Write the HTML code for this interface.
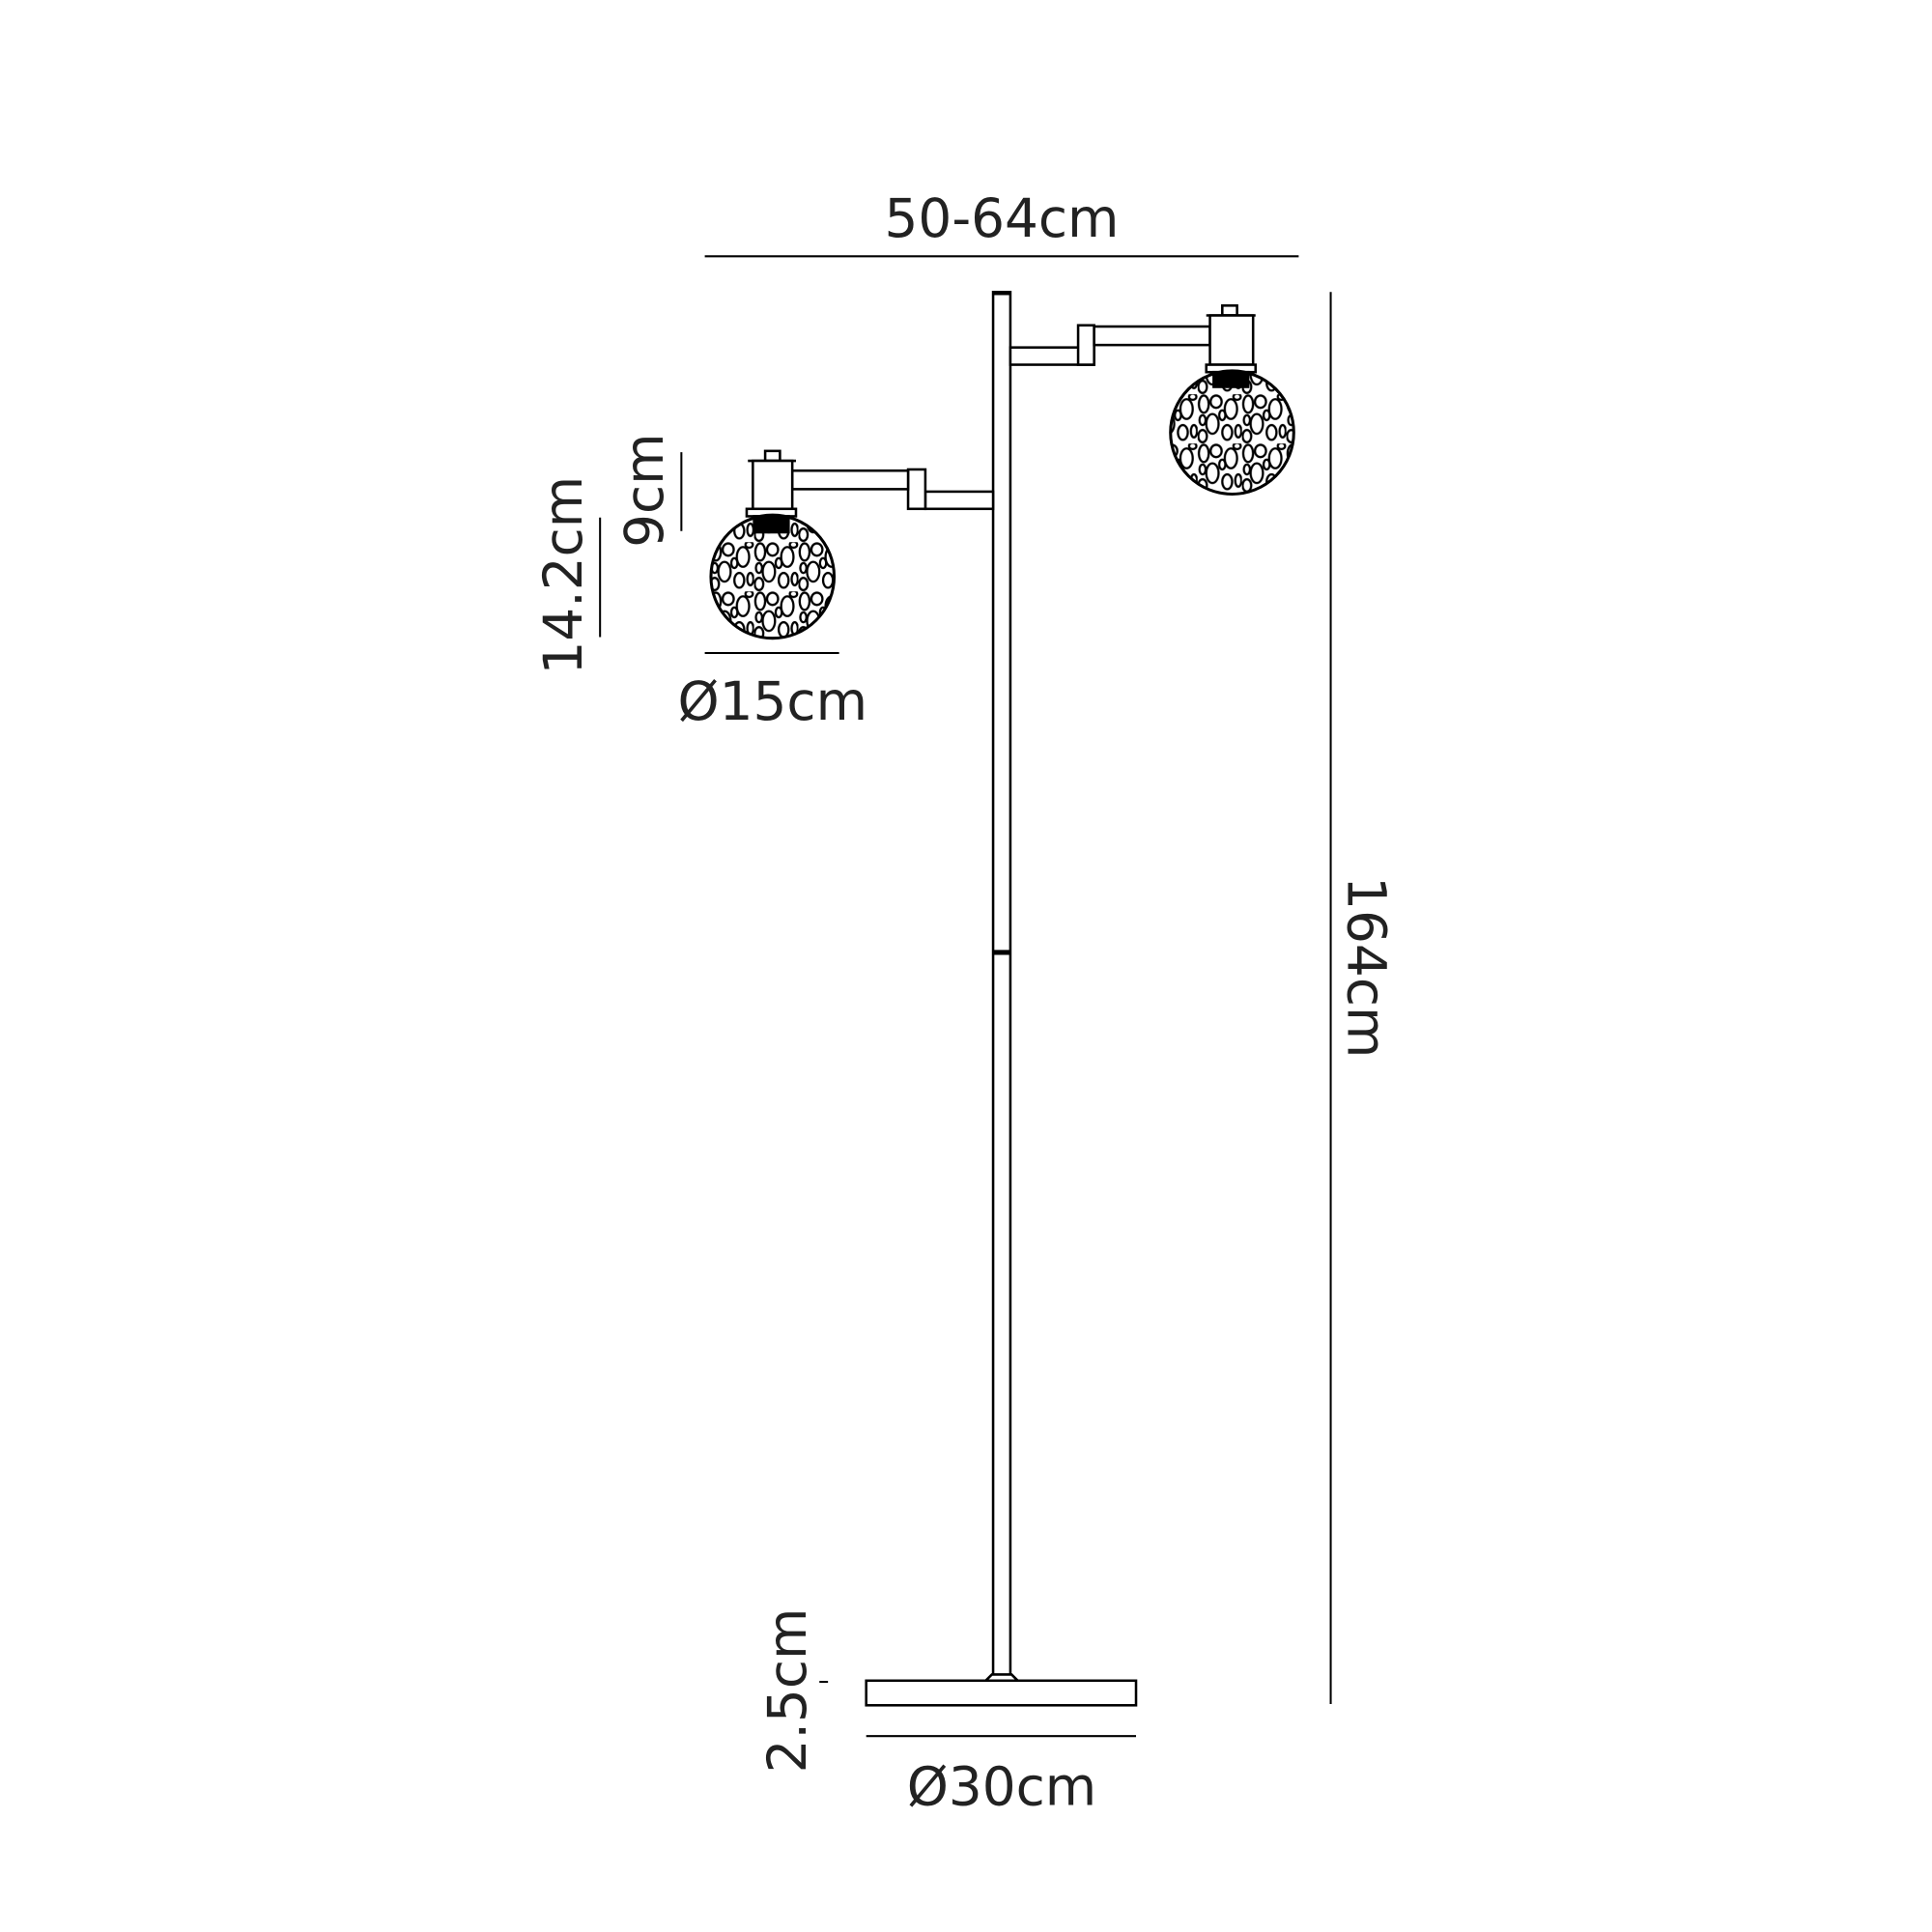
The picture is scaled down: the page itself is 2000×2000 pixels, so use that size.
<!DOCTYPE html>
<html><head><meta charset="utf-8"><style>
html,body{margin:0;padding:0;background:#fff}
svg{display:block}
text{font-family:"DejaVu Sans","Liberation Sans",sans-serif;fill:#222}
</style></head><body>
<svg width="2000" height="2000" viewBox="0 0 1568 1568" xmlns="http://www.w3.org/2000/svg">
<defs>
<pattern id="pb" width="36" height="40" patternUnits="userSpaceOnUse">
<rect width="36" height="40" fill="#fff"/>
<g fill="none" stroke="#000" stroke-width="1.8">
<ellipse cx="5" cy="8" rx="4" ry="7"/>
<ellipse cx="15" cy="6" rx="4.5" ry="5"/>
<ellipse cx="27" cy="12" rx="5" ry="8"/>
<ellipse cx="12" cy="24" rx="5" ry="8"/>
<ellipse cx="24" cy="31" rx="4" ry="6"/>
<ellipse cx="4" cy="34" rx="3.5" ry="5"/>
<ellipse cx="20" cy="17" rx="2.5" ry="4"/>
<ellipse cx="33" cy="30" rx="2.5" ry="5"/>
<ellipse cx="4" cy="21" rx="2.5" ry="4"/>
<ellipse cx="32" cy="2" rx="3" ry="2.5"/>
</g>
</pattern>
<clipPath id="c1"><circle cx="1000" cy="351" r="50"/></clipPath>
<clipPath id="c2"><circle cx="627" cy="468" r="50"/></clipPath>
</defs>
<g fill="none" stroke="#000" stroke-width="2">
<line x1="572" y1="208" x2="1054" y2="208" stroke-width="1.6"/>
<line x1="1080" y1="237" x2="1080" y2="1383" stroke-width="1.6"/>
<line x1="553" y1="367" x2="553" y2="431" stroke-width="1.6"/>
<line x1="487" y1="420" x2="487" y2="517" stroke-width="1.6"/>
<line x1="572" y1="530" x2="681" y2="530" stroke-width="1.6"/>
<line x1="703" y1="1409" x2="922" y2="1409" stroke-width="1.6"/>
<line x1="665" y1="1365" x2="672" y2="1365" stroke-width="1.6"/>
<rect x="806" y="237" width="14" height="1125" fill="#fff"/>
<line x1="806" y1="238" x2="820" y2="238" stroke-width="3"/>
<line x1="806" y1="772" x2="820" y2="772"/>
<line x1="806" y1="774" x2="820" y2="774"/>
<path d="M800 1364 L805 1359 L821 1359 L826 1364" fill="#fff"/>
<rect x="703" y="1364" width="219" height="20" fill="#fff"/>
<rect x="820" y="282" width="68" height="14" fill="#fff"/>
<rect x="875" y="264" width="13" height="32" fill="#fff"/>
<rect x="888" y="265" width="94" height="15" fill="#fff"/>
<rect x="992" y="248" width="12" height="8" fill="#fff"/>
<line x1="979" y1="256" x2="1019" y2="256"/>
<rect x="982" y="256" width="35" height="40" fill="#fff"/>
<rect x="979" y="296" width="40" height="6" fill="#fff"/>
<rect x="950" y="301" width="100" height="100" fill="url(#pb)" clip-path="url(#c1)" stroke="none"/>
<rect x="985" y="302" width="28" height="12" fill="#000"/>
<circle cx="1000" cy="351" r="50" stroke-width="2.4"/>
<rect x="751" y="399" width="55" height="14" fill="#fff"/>
<rect x="737" y="381" width="14" height="32" fill="#fff"/>
<rect x="643" y="382" width="94" height="15" fill="#fff"/>
<rect x="621" y="366" width="12" height="8" fill="#fff"/>
<line x1="607" y1="374" x2="646" y2="374"/>
<rect x="611" y="374" width="32" height="39" fill="#fff"/>
<rect x="606" y="413" width="40" height="6" fill="#fff"/>
<rect x="577" y="418" width="100" height="100" fill="url(#pb)" clip-path="url(#c2)" stroke="none"/>
<rect x="612" y="419" width="28" height="13" fill="#000"/>
<circle cx="627" cy="468" r="50" stroke-width="2.4"/>
</g>
<text x="813" y="192" font-size="43" text-anchor="middle">50-64cm</text>
<text x="627" y="584" font-size="43" text-anchor="middle">Ø15cm</text>
<text x="813" y="1465" font-size="43" text-anchor="middle">Ø30cm</text>
<text transform="translate(1094,785) rotate(90)" font-size="43" text-anchor="middle">164cm</text>
<text transform="translate(538,398) rotate(-90)" font-size="43" text-anchor="middle">9cm</text>
<text transform="translate(472,467) rotate(-90)" font-size="43" text-anchor="middle">14.2cm</text>
<text transform="translate(654,1372) rotate(-90)" font-size="43" text-anchor="middle">2.5cm</text>
</svg>
</body></html>
